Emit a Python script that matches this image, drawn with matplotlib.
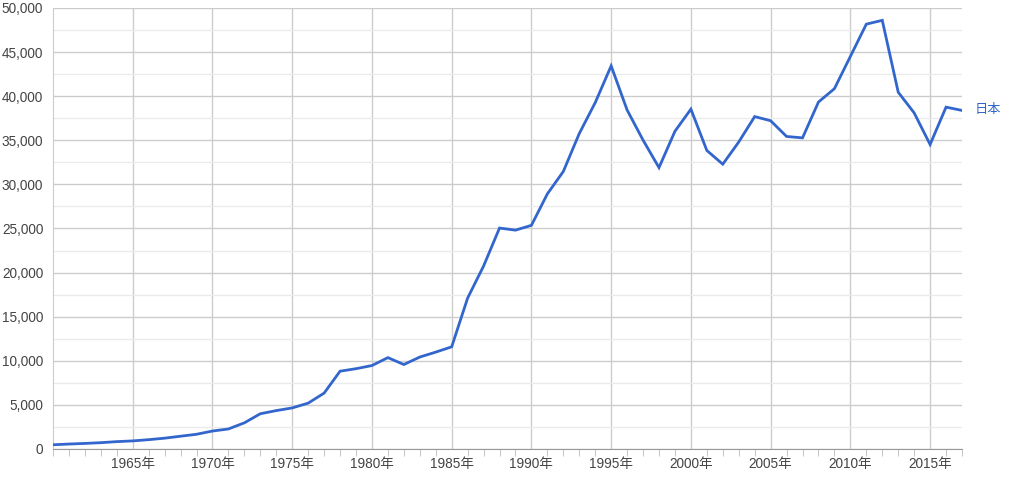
import matplotlib

matplotlib.use("Agg")
import matplotlib.pyplot as plt
from matplotlib.ticker import FuncFormatter, MultipleLocator

plt.rcParams["font.family"] = ["Liberation Sans", "Noto Sans CJK JP"]

years = list(range(1960, 2018))
gdp_per_capita = [
    479, 563, 633, 717, 836, 919, 1058, 1228, 1450, 1669,
    2037, 2272, 2967, 3997, 4354, 4659, 5198, 6335, 8821, 9105,
    9463, 10361, 9578, 10425, 10984, 11585, 17112, 20745, 25052, 24813,
    25359, 28925, 31465, 35766, 39269, 43440, 38437, 35022, 31903, 36027,
    38532, 33846, 32289, 34808, 37689, 37218, 35434, 35275, 39339, 40855,
    44508, 48168, 48603, 40454, 38109, 34524, 38761, 38387,
]
series_label = "日本"
x_ticks = [1965, 1970, 1975, 1980, 1985, 1990, 1995, 2000, 2005, 2010, 2015]

BLUE = "#3366cc"
TEXT = "#444444"

fig = plt.figure(figsize=(10.26, 4.8), dpi=100)
ax = fig.add_axes([53 / 1026, 1 - 449 / 480, (962 - 53) / 1026, 441 / 480])

ax.plot(years, gdp_per_capita, color=BLUE, lw=2.0, solid_joinstyle="miter", zorder=3)
ax.set_xlim(1960, 2017)
ax.set_ylim(0, 50000)

ax.yaxis.set_major_locator(MultipleLocator(5000))
ax.yaxis.set_minor_locator(MultipleLocator(2500))
ax.yaxis.set_major_formatter(FuncFormatter(lambda v, _: f"{int(v):,}"))
ax.set_xticks(x_ticks)
ax.set_xticklabels([f"{y}年" for y in x_ticks])
ax.xaxis.set_minor_locator(MultipleLocator(1))

ax.grid(which="major", color="#cccccc", lw=1.0)
ax.grid(which="minor", axis="y", color="#ebebeb", lw=1.0)
ax.set_axisbelow(True)

for side in ("top", "right"):
    ax.spines[side].set_visible(False)
ax.spines["left"].set_color("#cccccc")
ax.spines["bottom"].set_color("#999999")

ax.tick_params(axis="y", which="both", length=0, labelsize=9.8, labelcolor=TEXT, pad=7)
ax.tick_params(axis="x", which="major", length=0, labelsize=9.8, labelcolor=TEXT, pad=6)
ax.tick_params(axis="x", which="minor", length=5, color="#bbbbbb", direction="out")

ax.annotate(series_label, xy=(years[-1], gdp_per_capita[-1]), xytext=(9, 0),
            textcoords="offset points", color=BLUE, fontsize=9.5, va="center",
            annotation_clip=False)

fig.savefig("out.png", dpi=100)
